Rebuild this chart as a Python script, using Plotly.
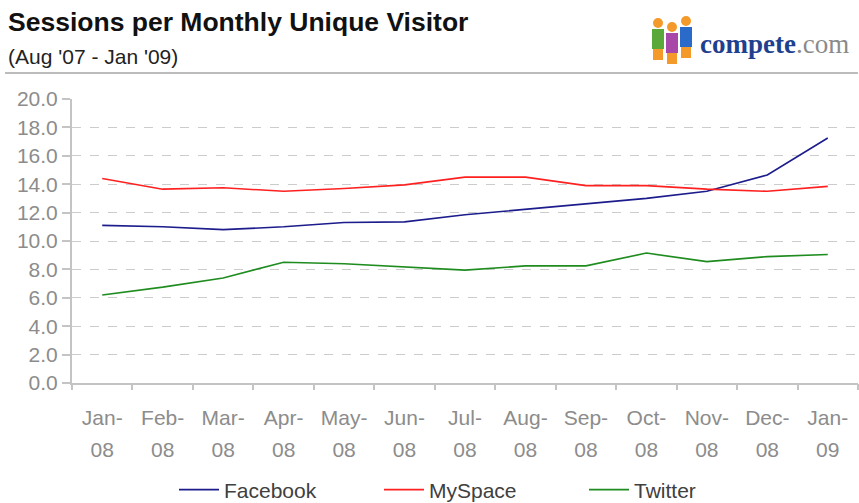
import plotly.graph_objects as go

months = ["Jan-", "Feb-", "Mar-", "Apr-", "May-", "Jun-", "Jul-", "Aug-", "Sep-", "Oct-", "Nov-", "Dec-", "Jan-"]
years = ["08", "08", "08", "08", "08", "08", "08", "08", "08", "08", "08", "08", "09"]
facebook = [11.1, 11.0, 10.8, 11.0, 11.3, 11.35, 11.85, 12.25, 12.65, 13.0, 13.5, 14.65, 17.25]
myspace = [14.4, 13.65, 13.75, 13.5, 13.7, 13.95, 14.5, 14.5, 13.9, 13.9, 13.65, 13.5, 13.85]
twitter = [6.2, 6.75, 7.4, 8.5, 8.4, 8.15, 7.95, 8.25, 8.25, 9.15, 8.55, 8.9, 9.05]
y_ticks = [0, 2, 4, 6, 8, 10, 12, 14, 16, 18, 20]

idx = list(range(len(months)))

fig = go.Figure()
for name, vals, col in [("Facebook", facebook, "#1c1c8c"),
                        ("MySpace", myspace, "#ff2020"),
                        ("Twitter", twitter, "#1f8c1f")]:
    fig.add_trace(go.Scatter(x=idx, y=vals, name=name, mode="lines",
                             line=dict(color=col, width=1.6)))

font = "Liberation Sans, Arial, sans-serif"
L, R, T, B = 72, 1, 99, 120
W, H = 859, 503
pw, ph = W - L - R, H - T - B

def px(x):
    return (x - L) / pw
def py(y):
    return (H - B - y) / ph

fig.update_layout(
    width=W, height=H,
    margin=dict(l=L, r=R, t=T, b=B, autoexpand=False),
    paper_bgcolor="white", plot_bgcolor="white",
    showlegend=True,
    legend=dict(orientation="h", xref="paper", x=px(174), xanchor="left",
                yref="container", y=(H - 490) / H, yanchor="middle",
                font=dict(family=font, size=21, color="#404040"),
                entrywidth=150, entrywidthmode="pixels", itemwidth=40),
    font=dict(family=font),
)
fig.update_xaxes(
    range=[-0.5, 12.5], tickvals=idx, ticktext=months,
    showline=True, linecolor="#c4c4c4", linewidth=2,
    ticks="", showgrid=False, zeroline=False, automargin=False,
    tickfont=dict(family=font, size=21, color="#8c8c8c"),
    ticklabelstandoff=15,
)
fig.update_layout(xaxis2=dict(
    overlaying="x", anchor="y", side="bottom", range=[-0.5, 12.5],
    tickvals=idx, ticktext=years, showline=False, showgrid=False, zeroline=False,
    ticks="", automargin=False,
    tickfont=dict(family=font, size=21, color="#8c8c8c"),
    ticklabelstandoff=52,
))
# category boundary tick marks along the x axis
fig.update_layout(xaxis3=dict(
    overlaying="x", anchor="y", side="bottom", range=[-0.5, 12.5],
    tickvals=[i - 0.5 for i in idx] + [12.5], showticklabels=False,
    ticks="outside", ticklen=6, tickwidth=2, tickcolor="#c4c4c4",
    showline=False, showgrid=False, zeroline=False, automargin=False,
))
fig.update_yaxes(
    range=[0, 20], tickvals=y_ticks, ticktext=[f"{v:.1f}" for v in y_ticks],
    showline=True, linecolor="#c4c4c4", linewidth=2,
    ticks="outside", ticklen=8, tickcolor="#c4c4c4", tickwidth=2,
    tickfont=dict(family=font, size=21, color="#8c8c8c"),
    showgrid=True, gridcolor="#cccccc", griddash="dash", gridwidth=1,
    zeroline=False, automargin=False,
)
# invisible helpers so the overlay axes are drawn
fig.add_trace(go.Scatter(x=idx, y=[None] * len(idx), xaxis="x2", showlegend=False, hoverinfo="skip"))
fig.add_trace(go.Scatter(x=idx, y=[None] * len(idx), xaxis="x3", showlegend=False, hoverinfo="skip"))

# header
fig.add_annotation(text="<b>Sessions per Monthly Unique Visitor</b>", xref="paper", yref="paper",
                   x=px(6), y=py(22), xanchor="left", yanchor="middle", showarrow=False,
                   font=dict(family=font, size=26.5, color="#111111"))
fig.add_annotation(text="(Aug '07 - Jan '09)", xref="paper", yref="paper",
                   x=px(6), y=py(57), xanchor="left", yanchor="middle", showarrow=False,
                   font=dict(family=font, size=21, color="#222222"))
fig.add_shape(type="line", xref="paper", yref="paper",
              x0=px(5), x1=1, y0=py(73), y1=py(73),
              line=dict(color="#bcbcbc", width=2))

# logo
fig.add_annotation(text="<b><span style='color:#1f3f8f'>compete</span></b><span style='color:#8a8a8a'>.com</span>",
                   xref="paper", yref="paper", x=px(698), y=py(44),
                   xanchor="left", yanchor="middle", showarrow=False,
                   font=dict(family="Liberation Serif, serif", size=27, color="#1f3f8f"))
people = [(658, 38, "#f39a2a", "#5aa83a"), (672, 42, "#f39a2a", "#a848a8"), (686, 36, "#f39a2a", "#2a6ac8")]
for cx, cy, headc, bodyc in people:
    fig.add_shape(type="circle", xref="paper", yref="paper",
                  x0=px(cx - 5), x1=px(cx + 5), y0=py(cy - 10), y1=py(cy - 20),
                  fillcolor=headc, line=dict(width=0))
    fig.add_shape(type="rect", xref="paper", yref="paper",
                  x0=px(cx - 6), x1=px(cx + 6), y0=py(cy - 9), y1=py(cy + 11),
                  fillcolor=bodyc, line=dict(width=0))
    fig.add_shape(type="rect", xref="paper", yref="paper",
                  x0=px(cx - 5), x1=px(cx + 5), y0=py(cy + 11), y1=py(cy + 22),
                  fillcolor=headc, line=dict(width=0))

fig.write_html("out.html", config={"displayModeBar": False},
               post_script="document.body.style.margin='0';")
